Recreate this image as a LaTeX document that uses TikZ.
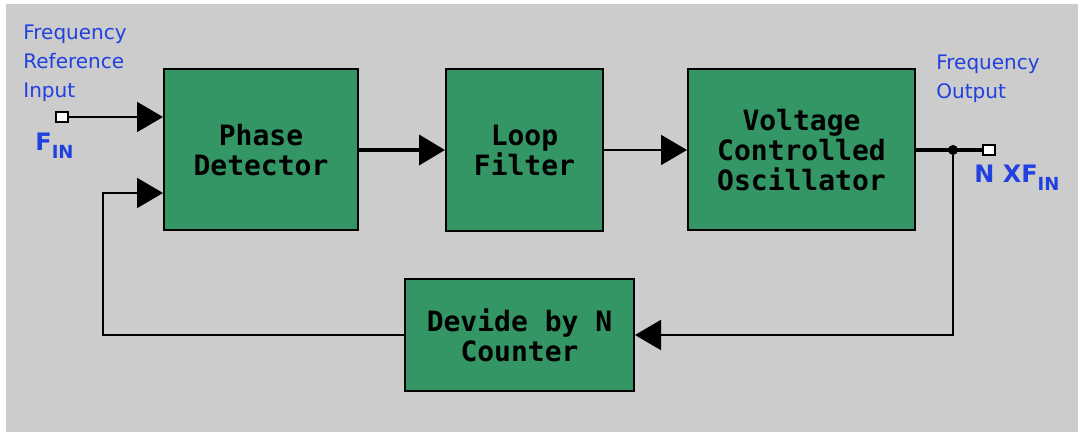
\documentclass[tikz,border=0pt]{standalone}
\usepackage{fontspec}
\setmainfont{DejaVu Sans}
\newfontfamily\blkfont{DejaVu Sans Mono}
\usetikzlibrary{arrows.meta}
\definecolor{pllgreen}{RGB}{52,150,100}
\definecolor{pllblue}{RGB}{32,64,224}
\definecolor{pllgray}{RGB}{204,204,204}

\begin{document}
\begin{tikzpicture}[x=.5pt,y=-.5pt,
  blk/.style={draw=black,line width=1pt,fill=pllgreen,inner sep=0pt,align=center,font=\blkfont\bfseries\fontsize{14}{15}\selectfont},
  lbl/.style={text=pllblue,align=left,inner sep=0pt,font=\fontsize{10}{14.5}\selectfont},
  sig/.style={text=pllblue,inner sep=0pt,font=\bfseries\fontsize{12}{12}\selectfont},
  tip/.style={-{Triangle[length=13pt,width=15pt]}},
  port/.style={draw=black,line width=1pt,fill=white,minimum width=6pt,minimum height=5pt,inner sep=0pt}]
\useasboundingbox (0,0) rectangle (1078,432);
\fill[white] (0,0) rectangle (1078,432);
\fill[pllgray] (6,4) rectangle (1078,432);
% blocks
\node[blk,minimum width=97pt,minimum height=80.5pt] (pd) at (261,150) {Phase\\Detector};
\node[blk,minimum width=78.5pt,minimum height=81pt] (lf) at (524.5,150) {Loop\\Filter};
\node[blk,minimum width=113.5pt,minimum height=80.5pt] (vco) at (801.5,150) {Voltage\\Controlled\\Oscillator};
\node[blk,minimum width=114.5pt,minimum height=56pt] (dv) at (519.5,335) {Devide by N\\Counter};
% ports and labels
\node[port] (in) at (62,117) {};
\node[port] (out) at (989,150) {};
\node[fill=black,circle,inner sep=0pt,minimum size=5pt] (jn) at (953,150) {};
\coordinate (fb) at (103,193);
\node[lbl,anchor=north west] (inlbl) at (23,25) {Frequency\\Reference\\Input};
\node[lbl,anchor=north west] (outlbl) at (936,55) {Frequency\\Output};
\node[sig,anchor=base west] (fin) at (35,151) {F\raisebox{-4pt}{\fontsize{9}{9}\selectfont IN}};
\node[sig,anchor=base west] (nxf) at (974,183) {N XF\raisebox{-4pt}{\fontsize{9}{9}\selectfont IN}};
% connectors
\draw[tip,line width=1pt] (in.east) -- (in -| pd.west);
\draw[tip,line width=2pt] (pd) -- (lf);
\draw[tip,line width=1pt] (lf) -- (vco);
\draw[line width=2pt] (vco.east) -- (out.west);
\draw[tip,line width=1pt] (jn) |- (dv.east);
\draw[tip,line width=1pt] (dv.west) -| (fb) -- (fb -| pd.west);
\end{tikzpicture}
\end{document}
